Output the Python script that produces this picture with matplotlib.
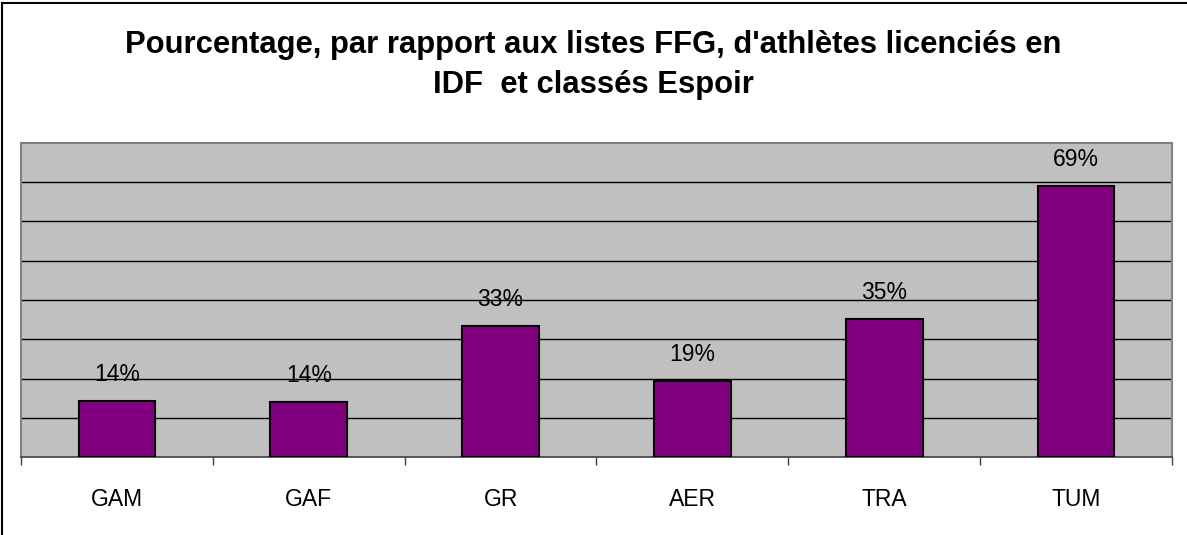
import matplotlib.pyplot as plt
from matplotlib.lines import Line2D
import numpy as np

categories = ["GAM", "GAF", "GR", "AER", "TRA", "TUM"]
values = [14.3, 14.0, 33.4, 19.4, 35.2, 69.1]
labels = ["14%", "14%", "33%", "19%", "35%", "69%"]
title_lines = ["Pourcentage, par rapport aux listes FFG, d'athlètes licenciés en",
               "IDF  et classés Espoir"]

plt.rcParams['font.family'] = ['Liberation Sans', 'DejaVu Sans']

W, H = 1187, 535
fig = plt.figure(figsize=(W / 100, H / 100), dpi=100)
ax = fig.add_axes([21 / W, 78 / H, 1151 / W, 314 / H])

x = np.arange(len(categories))
ax.set_facecolor("#c0c0c0")
ax.bar(x, values, width=0.40, color="#800080", edgecolor="black", linewidth=1.5, zorder=3)

for xi, v, lab in zip(x, values, labels):
    ax.annotate(lab, (xi, v), xytext=(0, 14.5), textcoords="offset points",
                ha="center", va="baseline", fontsize=16.5, zorder=4)

ax.set_xlim(-0.5, len(categories) - 0.5)
ax.set_ylim(0, 80)
ax.set_yticks(np.arange(10, 80, 10))
ax.yaxis.grid(True, color="black", linewidth=1)
ax.tick_params(axis="y", left=False, labelleft=False)

ax.set_xticks(x)
ax.set_xticklabels(categories, fontsize=16.5)
ax.tick_params(axis="x", which="major", length=0, pad=22)
ax.set_xticks(np.arange(-0.5, len(categories), 1), minor=True)
ax.tick_params(axis="x", which="minor", length=6, width=1, color="#404040", direction="out")

for side in ["left", "top", "right"]:
    ax.spines[side].set_color("#808080")
    ax.spines[side].set_linewidth(1.5)
ax.spines["bottom"].set_color("#404040")
ax.spines["bottom"].set_linewidth(1.2)

# titre sur deux lignes
for line, base in zip(title_lines, [53, 93]):
    fig.text(0.5, 1 - base / H, line, ha="center", va="baseline",
             fontsize=22.3, fontweight="bold")

# cadre du graphique (haut et gauche)
fig.add_artist(Line2D([1.5 / W, 1.5 / W], [0, 1 - 3 / H], color="black", linewidth=1.5))
fig.add_artist(Line2D([1.5 / W, 1], [1 - 3 / H, 1 - 3 / H], color="black", linewidth=1.5))

fig.savefig("out.png", dpi=100)
